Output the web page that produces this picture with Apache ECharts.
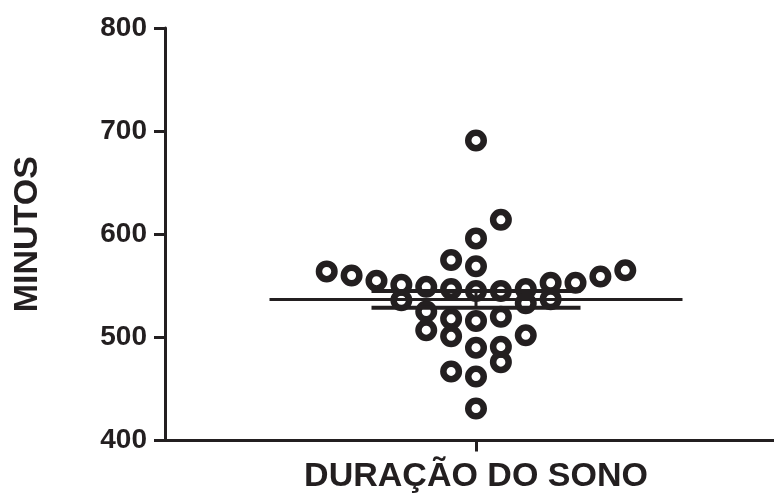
<!DOCTYPE html>
<html>
<head>
<meta charset="utf-8">
<script src="https://cdn.jsdelivr.net/npm/echarts@6/dist/echarts.min.js"></script>
<style>html,body{margin:0;padding:0;background:#fff;}#c{width:774px;height:495px;}</style>
</head>
<body>
<div id="c"></div>
<script>
// ---- data ----
const category = ['DURAÇÃO DO SONO'];
const yTicks = [400, 500, 600, 700, 800];
// sleep duration values (minutes)
const minutes = [691, 596, 569, 545, 516, 490, 462, 431,
                 575, 547, 518, 501, 467,
                 614, 545, 520, 491, 476,
                 549, 525, 507,
                 547, 533, 502,
                 551, 536,
                 553, 537,
                 555, 553, 560, 559, 564, 565];
// scatter-dot column (slot) of each value in the plotted swarm
const slot = [0, 0, 0, 0, 0, 0, 0, 0,
              -1, -1, -1, -1, -1,
              1, 1, 1, 1, 1,
              -2, -2, -2,
              2, 2, 2,
              -3, -3,
              3, 3,
              -4, 4, -5, 5, -6, 6];

// ---- stats (mean ± SEM) ----
const n = minutes.length;
const mean = minutes.reduce((a, b) => a + b, 0) / n;
const sd = Math.sqrt(minutes.reduce((a, b) => a + (b - mean) * (b - mean), 0) / (n - 1));
const sem = sd / Math.sqrt(n);

const ink = '#231f20';
const font = '"Liberation Sans", Arial, sans-serif';

const chart = echarts.init(document.getElementById('c'), null, {renderer: 'canvas'});
const lineStyle = w => ({color: ink, width: w, type: 'solid', cap: 'butt'});
const seg = (data, w) => ({
  type: 'line', xAxisIndex: 1, data: data, symbol: 'none', silent: true, z: 5,
  lineStyle: lineStyle(w), animation: false
});

chart.setOption({
  animation: false,
  backgroundColor: '#fff',
  grid: {left: 165, top: 28, width: 622, height: 412.5, containLabel: false, outerBoundsMode: 'none'},
  xAxis: [
    {
      type: 'category', data: category, boundaryGap: true,
      axisLine: {lineStyle: {color: ink, width: 3}},
      axisTick: {show: true, length: 11, alignWithLabel: true, lineStyle: {color: ink, width: 3}},
      axisLabel: {color: ink, fontFamily: font, fontWeight: 'bold', fontSize: 34, margin: 19},
      splitLine: {show: false}
    },
    {type: 'value', min: -12.5, max: 12.5, show: false}
  ],
  yAxis: {
    type: 'value', min: yTicks[0], max: yTicks[yTicks.length - 1], interval: 100,
    name: 'MINUTOS', nameLocation: 'middle', nameGap: 120, nameRotate: 90,
    nameTextStyle: {color: ink, fontFamily: font, fontWeight: 'bold', fontSize: 34},
    axisLine: {show: true, onZero: false, lineStyle: {color: ink, width: 3}},
    axisTick: {show: true, length: 11, lineStyle: {color: ink, width: 3}},
    axisLabel: {color: ink, fontFamily: font, fontWeight: 'bold', fontSize: 28, margin: 18},
    splitLine: {show: false}
  },
  series: [
    {
      type: 'scatter', xAxisIndex: 1,
      data: minutes.map((v, i) => [slot[i], v]),
      symbol: 'circle', symbolSize: 15.5,
      itemStyle: {color: 'rgba(0,0,0,0)', borderColor: ink, borderWidth: 6.5, opacity: 1},
      z: 4
    },
    seg([[-8.3, mean], [8.3, mean]], 3),
    seg([[-4.2, mean + sem], [4.2, mean + sem]], 4),
    seg([[-4.2, mean - sem], [4.2, mean - sem]], 4),
    seg([[0, mean - sem], [0, mean + sem]], 3)
  ]
});
</script>
</body>
</html>
